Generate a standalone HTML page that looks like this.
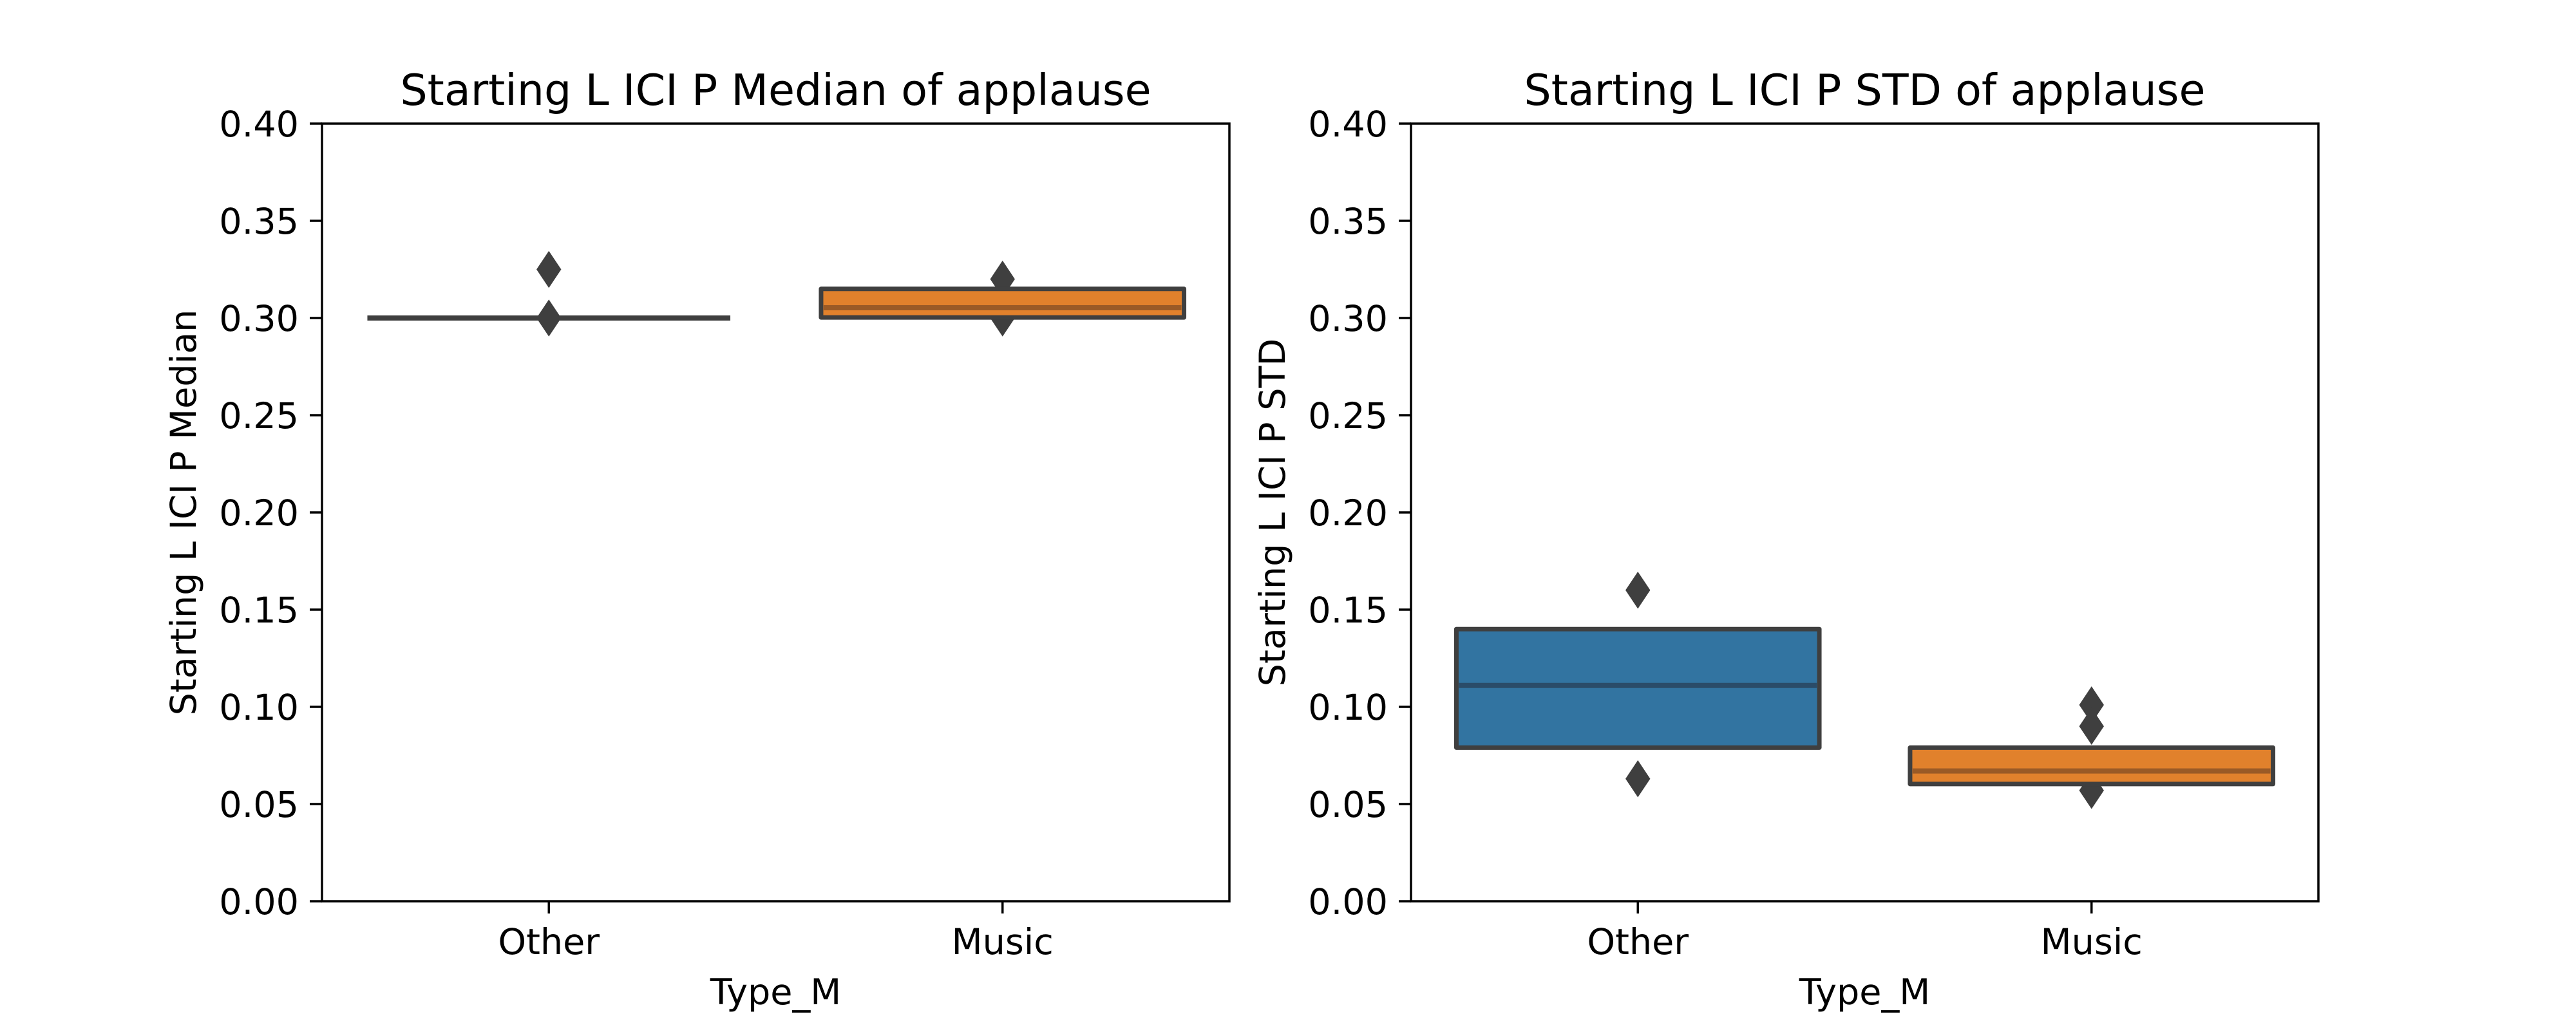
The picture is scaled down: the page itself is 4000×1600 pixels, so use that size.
<!DOCTYPE html>
<html><head><meta charset="utf-8"><style>
html,body{margin:0;padding:0;background:#fff;}
svg{display:block;font-family:"DejaVu Sans","Liberation Sans",sans-serif;}
</style></head><body>
<svg id="fig" width="4000" height="1600" viewBox="0 0 4000 1600" xmlns="http://www.w3.org/2000/svg">
<rect width="4000" height="1600" fill="#fff"/>
</svg>
<script>
const categories = ["Other", "Music"];
const yTicks = [0, 0.05, 0.10, 0.15, 0.20, 0.25, 0.30, 0.35, 0.40];
const yTickLabels = ["0.00","0.05","0.10","0.15","0.20","0.25","0.30","0.35","0.40"];
const medianQ1 = [0.300, 0.3003];
const medianMed = [0.300, 0.3053];
const medianQ3 = [0.300, 0.315];
const medianOutliers = [[0.325, 0.300], [0.320, 0.300]];
const stdQ1 = [0.079, 0.0603];
const stdMed = [0.111, 0.067];
const stdQ3 = [0.140, 0.079];
const stdOutliers = [[0.160, 0.063], [0.101, 0.090, 0.057]];
const titles = ["Starting L ICI P Median of applause", "Starting L ICI P STD of applause"];
const yLabels = ["Starting L ICI P Median", "Starting L ICI P STD"];

const NS = "http://www.w3.org/2000/svg";
const svgEl = document.getElementById("fig");
const fills = ["#3274a1", "#e1812c"];
const medCols = ["#2a4c69", "#9a5a26"];
function mk(tag, attrs, parent) {
  const e = document.createElementNS(NS, tag);
  for (const k in attrs) e.setAttribute(k, attrs[k]);
  (parent || svgEl).appendChild(e);
  return e;
}
const axTop = 192, axBottom = 1400;
function yScale(v) { return axBottom - (v - 0) / 0.4 * (axBottom - axTop); }

const panels = [
  {x0: 500, x1: 1909, q1: medianQ1, med: medianMed, q3: medianQ3, out: medianOutliers, name: "median-panel"},
  {x0: 2191, x1: 3600, q1: stdQ1, med: stdMed, q3: stdQ3, out: stdOutliers, name: "std-panel"}
];
panels.forEach((p, pi) => {
  const g = mk("g", {});
  
  
  const w = p.x1 - p.x0;
  const xScale = i => p.x0 + (i + 0.5) / 2 * w;
  const bw = 0.8 / 2 * w;
  yTicks.forEach((t, i) => {
    const y = yScale(t);
    const tk = mk("line", {x1: p.x0 - 19, x2: p.x0, y1: y, y2: y, stroke: "#000", "stroke-width": 3.5}, g);
    
    
    const tx = mk("text", {x: p.x0 - 36, y: y + 20, "text-anchor": "end", "font-size": 55.6, fill: "#000"}, g);
    tx.textContent = yTickLabels[i];
    
    
  });
  categories.forEach((c, i) => {
    const cx = xScale(i);
    const tk = mk("line", {x1: cx, x2: cx, y1: axBottom, y2: axBottom + 19, stroke: "#000", "stroke-width": 3.5}, g);
    
    
    const tx = mk("text", {x: cx, y: 1482, "text-anchor": "middle", "font-size": 55.6, fill: "#000"}, g);
    tx.textContent = c;
    
    
    p.out[i].forEach(v => {
      const y = yScale(v);
      const d = mk("path", {d: `M${cx},${y-27} L${cx+18},${y} L${cx},${y+27} L${cx-18},${y} Z`, fill: "#3f3f3f", stroke: "#3f3f3f", "stroke-width": 2}, g);
      
      
    });
    const yq3 = yScale(p.q3[i]), yq1 = yScale(p.q1[i]);
    if (yq1 - yq3 > 10) {
      const b = mk("rect", {x: cx - bw / 2, y: yq3, width: bw, height: yq1 - yq3, fill: fills[i], stroke: "#3f3f3f", "stroke-width": 7, "stroke-linejoin": "round"}, g);
      
      
      const ym = yScale(p.med[i]);
      const m = mk("line", {x1: cx - bw / 2 + 4, x2: cx + bw / 2 - 4, y1: ym, y2: ym, stroke: medCols[i], "stroke-width": 8}, g);
      
      
    } else {
      const b = mk("line", {x1: cx - bw / 2, x2: cx + bw / 2, y1: yq3, y2: yq3, stroke: "#3f3f3f", "stroke-width": 8}, g);
      
      
    }
  });
  const fr = mk("rect", {x: p.x0, y: axTop, width: w, height: axBottom - axTop, fill: "none", stroke: "#000", "stroke-width": 3.5}, g);
  
  
  const tt = mk("text", {x: (p.x0 + p.x1) / 2, y: 163, "text-anchor": "middle", "font-size": 66.7, fill: "#000"}, g);
  tt.textContent = titles[pi];
  
  
  const xl = mk("text", {x: (p.x0 + p.x1) / 2, y: 1560, "text-anchor": "middle", "font-size": 55.6, fill: "#000"}, g);
  xl.textContent = "Type_M";
  
  
  const lx = p.x0 - 196, ly = (axTop + axBottom) / 2;
  const yl = mk("text", {x: lx, y: ly, "text-anchor": "middle", "font-size": 55.6, fill: "#000", transform: `rotate(-90 ${lx} ${ly})`}, g);
  yl.textContent = yLabels[pi];
  
  
});
</script>
</body></html>
